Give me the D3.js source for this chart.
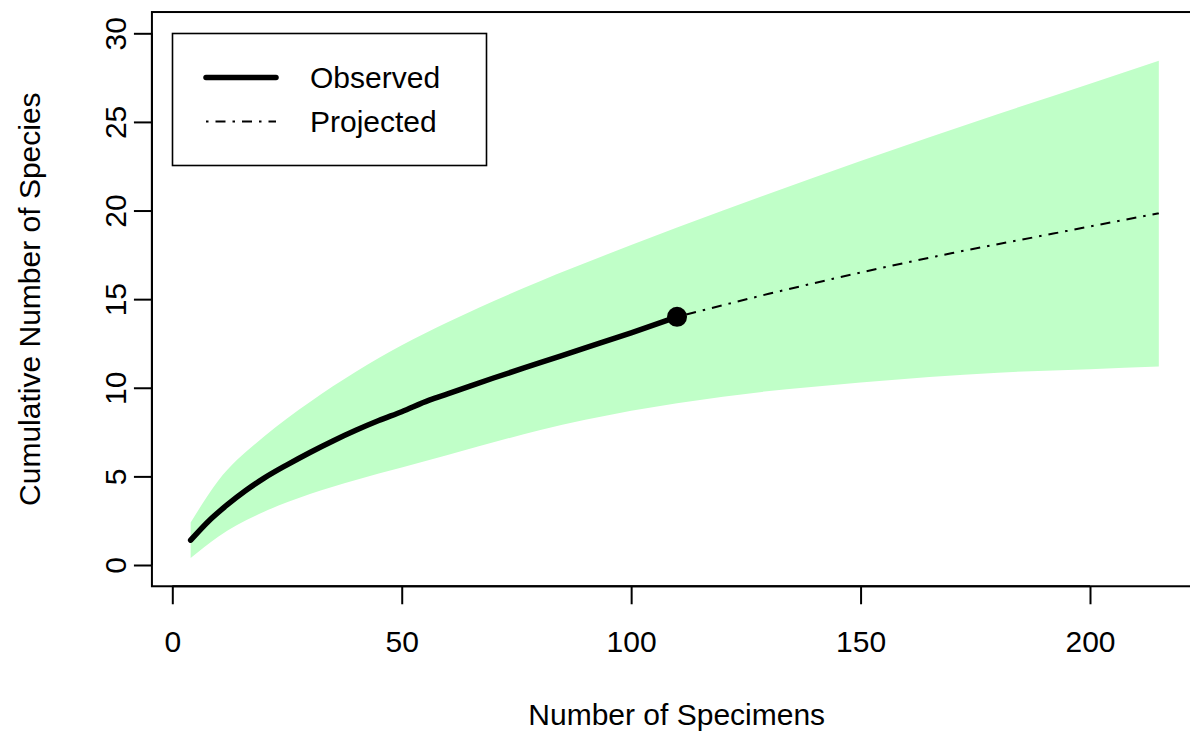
<!DOCTYPE html>
<html>
<head>
<meta charset="utf-8">
<script src="https://cdn.jsdelivr.net/npm/d3@7"></script>
<style>
  body { margin: 0; background: #fff; }
  svg text { font-family: "Liberation Sans", Arial, sans-serif; fill: #000; }
</style>
</head>
<body>
<div id="chart"></div>
<script>
// observed rarefaction curve
var obsN       = [4, 8, 12, 16, 20, 25, 30, 35, 40, 45, 50, 56, 60, 70, 80, 90, 100, 110];
var obsSpecies = [1.4, 2.5, 3.4, 4.2, 4.9, 5.65, 6.35, 7.0, 7.6, 8.15, 8.65, 9.3, 9.65, 10.55, 11.4, 12.25, 13.1, 14.0];

// extrapolated curve
var projN       = [110, 130, 150, 170, 190, 215];
var projSpecies = [14.0, 15.3, 16.5, 17.6, 18.6, 19.85];

// confidence band
var bandN     = [4, 10, 20, 30, 40, 50, 60, 80, 100, 120, 150, 180, 200, 215];
var bandUpper = [2.4, 4.75, 7.25, 9.2, 10.9, 12.4, 13.7, 16.0, 18.05, 20.0, 22.8, 25.45, 27.15, 28.45];
var bandLower = [0.4, 1.6, 3.0, 4.0, 4.8, 5.5, 6.2, 7.6, 8.7, 9.5, 10.3, 10.85, 11.05, 11.2];

var xTicks = [0, 50, 100, 150, 200];
var yTicks = [0, 5, 10, 15, 20, 25, 30];

var legendLabels = ["Observed", "Projected"];

var W = 1190, H = 732;
var fs = 30;
var dotdash = "2.5,7,10,7";

var x = d3.scaleLinear().domain([0, 200]).range([172.3, 1090]);
var y = d3.scaleLinear().domain([0, 30]).range([565, 33.3]);

// R style 4% extension of the data range
var xlim = [4 - 0.04 * 211, 215 + 0.04 * 211];
var ylim = [0 - 0.04 * 30, 30 + 0.04 * 30];

var svg = d3.select("#chart").append("svg")
    .attr("width", W)
    .attr("height", H);

var bandData = bandN.map(function(n, i) { return {n: n, hi: bandUpper[i], lo: bandLower[i]}; });
var obsData = obsN.map(function(n, i) { return {n: n, s: obsSpecies[i]}; });
var projData = projN.map(function(n, i) { return {n: n, s: projSpecies[i]}; });

var area = d3.area()
    .x(function(d) { return x(d.n); })
    .y0(function(d) { return y(d.lo); })
    .y1(function(d) { return y(d.hi); })
    .curve(d3.curveMonotoneX);

svg.append("path")
    .datum(bandData)
    .attr("d", area)
    .style("fill", "#c0ffc8")
    .style("stroke", "none");

var line = d3.line()
    .x(function(d) { return x(d.n); })
    .y(function(d) { return y(d.s); })
    .curve(d3.curveMonotoneX);

svg.append("path")
    .datum(projData)
    .attr("d", line)
    .style("fill", "none")
    .style("stroke", "#000")
    .style("stroke-width", 2)
    .style("stroke-dasharray", dotdash);

svg.append("path")
    .datum(obsData)
    .attr("d", line)
    .style("fill", "none")
    .style("stroke", "#000")
    .style("stroke-width", 5.5)
    .style("stroke-linecap", "round")
    .style("stroke-linejoin", "round");

svg.append("circle")
    .attr("cx", x(obsN[obsN.length - 1]))
    .attr("cy", y(obsSpecies[obsSpecies.length - 1]))
    .attr("r", 10)
    .style("fill", "#000");

// plot box
svg.append("rect")
    .attr("x", x(xlim[0]))
    .attr("y", y(ylim[1]))
    .attr("width", x(xlim[1]) - x(xlim[0]))
    .attr("height", y(ylim[0]) - y(ylim[1]))
    .style("fill", "none")
    .style("stroke", "#000")
    .style("stroke-width", 2);

// x axis
var xAxis = svg.append("g")
    .attr("transform", "translate(0," + y(ylim[0]) + ")")
    .call(d3.axisBottom(x).tickValues(xTicks).tickSize(18).tickPadding(26).tickSizeOuter(0));
xAxis.select(".domain").attr("d", "M" + x(xTicks[0]) + ",0H" + x(xTicks[xTicks.length - 1]));
xAxis.selectAll("line, .domain").style("stroke", "#000").style("stroke-width", 2);
xAxis.selectAll("text").style("font-size", fs + "px").style("font-family", "Liberation Sans, Arial, sans-serif");

// y axis (labels parallel to axis, like R)
var yAxis = svg.append("g")
    .attr("transform", "translate(" + x(xlim[0]) + ",0)")
    .call(d3.axisLeft(y).tickValues(yTicks).tickSize(18).tickSizeOuter(0));
yAxis.select(".domain").attr("d", "M0," + y(yTicks[0]) + "V" + y(yTicks[yTicks.length - 1]));
yAxis.selectAll("line, .domain").style("stroke", "#000").style("stroke-width", 2);
yAxis.selectAll("text")
    .attr("x", null)
    .attr("dy", null)
    .attr("text-anchor", "middle")
    .attr("transform", "translate(-26,0) rotate(-90)")
    .style("font-size", fs + "px")
    .style("font-family", "Liberation Sans, Arial, sans-serif");

// axis titles
svg.append("text")
    .attr("x", (x(xlim[0]) + x(xlim[1])) / 2 + 2)
    .attr("y", 725)
    .attr("text-anchor", "middle")
    .style("font-size", fs + "px")
    .text("Number of Specimens");

svg.append("text")
    .attr("transform", "translate(40," + (y(ylim[0]) + y(ylim[1])) / 2 + ") rotate(-90)")
    .attr("text-anchor", "middle")
    .style("font-size", fs + "px")
    .text("Cumulative Number of Species");

// legend
var legend = svg.append("g");
legend.append("rect")
    .attr("x", 172.5).attr("y", 33.5)
    .attr("width", 314).attr("height", 132)
    .style("fill", "#fff")
    .style("stroke", "#000")
    .style("stroke-width", 1.6);

legend.append("line")
    .attr("x1", 206).attr("x2", 276).attr("y1", 77.5).attr("y2", 77.5)
    .style("stroke", "#000").style("stroke-width", 5.5).style("stroke-linecap", "round");
legend.append("line")
    .attr("x1", 206).attr("x2", 276).attr("y1", 121.5).attr("y2", 121.5)
    .style("stroke", "#000").style("stroke-width", 2)
    .style("stroke-dasharray", dotdash);

legend.selectAll("text.lab").data(legendLabels).enter().append("text")
    .attr("class", "lab")
    .attr("x", 310)
    .attr("y", function(d, i) { return 88 + i * 44; })
    .style("font-size", fs + "px")
    .text(function(d) { return d; });
</script>
</body>
</html>
